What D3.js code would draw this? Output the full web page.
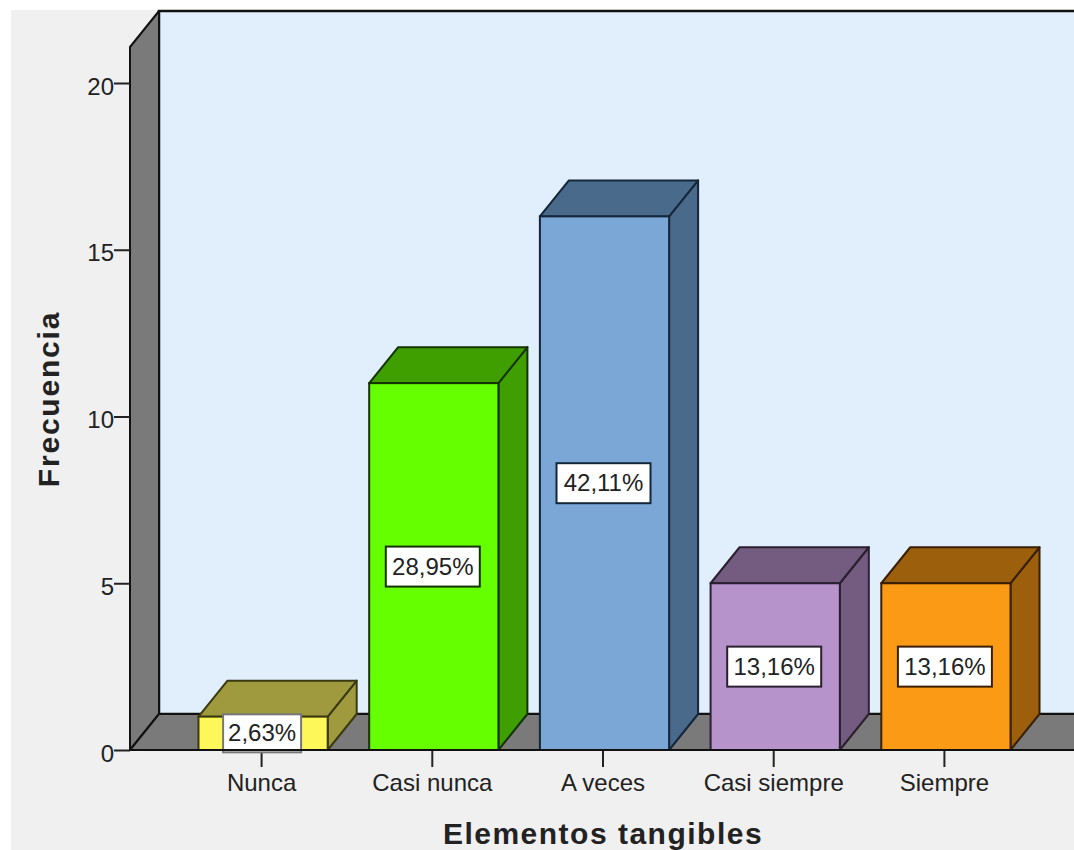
<!DOCTYPE html>
<html><head><meta charset="utf-8">
<script src="https://cdn.jsdelivr.net/npm/d3@7/dist/d3.min.js"></script>
<style>html,body{margin:0;padding:0;background:#fff}svg{display:block}text{font-family:"Liberation Sans",Arial,sans-serif}</style>
</head><body><svg id="c" width="1074" height="850"></svg>
<script>
const categories=["Nunca","Casi nunca","A veces","Casi siempre","Siempre"];
const frequencies=[1,11,16,5,5];
const percentLabels=["2,63%","28,95%","42,11%","13,16%","13,16%"];
const frontColors=["#fdf75a","#66ff00","#7ba7d6","#b793cb","#fb9a14"];
const topColors=["#a09a3e","#3f9f00","#4a6a8c","#735c80","#9c600d"];
const sideColors=["#a09a3e","#3f9f00","#4a6a8c","#735c80","#9c600d"];
const strokeColors=["#3a3a10","#143300","#14263a","#2a2030","#3a1f00"];
const yTicks=[0,5,10,15,20];
const xTitle="Elementos tangibles", yTitle="Frecuencia";

const svg=d3.select("#c");
const dx=29, dy=36;
const y=d3.scaleLinear().domain([0,20]).range([750,83]);
const x=d3.scaleBand().domain(categories).range([178,1031]).paddingInner(0.243).paddingOuter(0.12);
const left=130, right=1074, base=y(0), topY=47;

svg.append("rect").attr("x",11).attr("y",10).attr("width",1063).attr("height",840).attr("fill","#f0f0f0");
svg.append("rect").attr("x",left+dx).attr("y",topY-dy).attr("width",right-left-dx+2).attr("height",base-topY)
  .attr("fill","#e1eefc").attr("stroke","#111").attr("stroke-width",2.5);
const poly=(pts,fill,stroke,w)=>svg.append("polygon").attr("points",pts.map(p=>p.join(",")).join(" ")).attr("fill",fill).attr("stroke",stroke).attr("stroke-width",w||2).attr("stroke-linejoin","round");
poly([[left,topY],[left+dx,topY-dy],[left+dx,base-dy],[left,base]],"#7a7a7a","#111");
poly([[left,base],[left+dx,base-dy],[right+2,base-dy],[right+2,base]],"#7a7a7a","#111");

const yAxis=svg.append("g").attr("transform",`translate(${left},0)`).call(d3.axisLeft(y).tickValues(yTicks).tickSize(16).tickPadding(0));
yAxis.select(".domain").remove();
yAxis.selectAll("line").attr("stroke","#222").attr("stroke-width",2);
yAxis.selectAll("text").attr("font-size",24).attr("fill","#222").attr("dy","0.55em").attr("transform","translate(0,-2)");
const xAxis=svg.append("g").attr("transform",`translate(-1.5,${base})`).call(d3.axisBottom(x).tickSize(17).tickPadding(7));
xAxis.select(".domain").remove();
xAxis.selectAll("line").attr("stroke","#222").attr("stroke-width",2);
xAxis.selectAll("text").attr("font-size",24).attr("fill","#222");

categories.forEach((c,i)=>{
  const x0=x(c), w=x.bandwidth(), y0=y(frequencies[i]), s=strokeColors[i];
  poly([[x0+w,y0],[x0+w+dx,y0-dy],[x0+w+dx,base-dy],[x0+w,base]],sideColors[i],s);
  poly([[x0,y0],[x0+dx,y0-dy],[x0+w+dx,y0-dy],[x0+w,y0]],topColors[i],s);
  svg.append("rect").attr("x",x0).attr("y",y0).attr("width",w).attr("height",base-y0).attr("fill",frontColors[i]).attr("stroke",s).attr("stroke-width",2);
  const cx=x0+w/2-1, cy=(y0+base)/2, bw=i===0?78:94, bh=i===0?38:40;
  svg.append("rect").attr("x",cx-bw/2).attr("y",cy-bh/2).attr("width",bw).attr("height",bh)
    .attr("fill","#fff").attr("stroke",i===0?"#777":s).attr("stroke-width",2);
  svg.append("text").attr("x",cx).attr("y",cy+8).attr("text-anchor","middle").attr("font-size",24).attr("fill","#222").text(percentLabels[i]);
});

svg.append("line").attr("x1",left).attr("x2",right).attr("y1",base).attr("y2",base).attr("stroke","#111").attr("stroke-width",2);

svg.append("text").attr("x",603).attr("y",844).attr("text-anchor","middle").attr("font-size",30).attr("font-weight","bold").attr("letter-spacing",1.5).attr("fill","#222").text(xTitle);
svg.append("text").attr("transform","translate(59,399) rotate(-90)").attr("text-anchor","middle").attr("font-size",30).attr("font-weight","bold").attr("letter-spacing",1.8).attr("fill","#222").text(yTitle);
</script></body></html>
